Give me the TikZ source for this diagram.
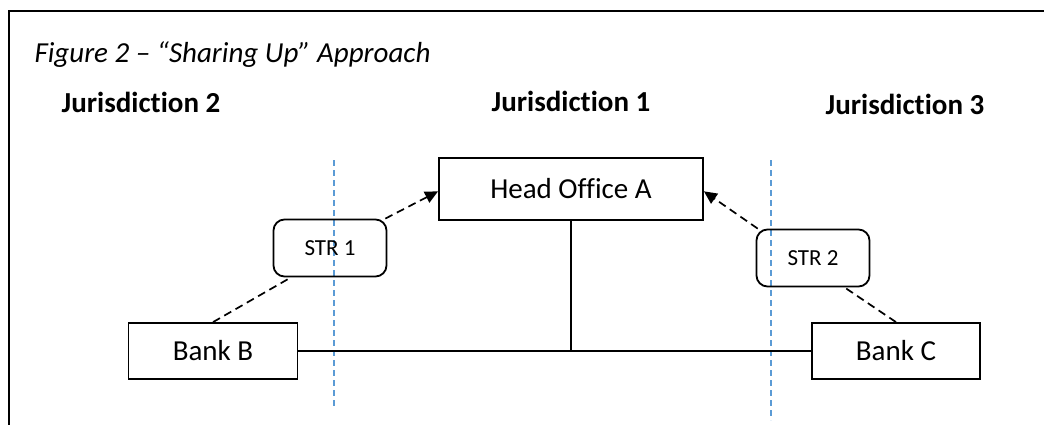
\documentclass[tikz,border=0pt]{standalone}
\usepackage{fontspec}
\setmainfont{Carlito}[Ligatures=NoCommon]
\usetikzlibrary{arrows.meta}
\definecolor{sharingInk}{HTML}{000000}
\definecolor{borderBlue}{HTML}{5B9BD5}

\tikzset{
  entity/.style={draw=sharingInk, line width=1.8pt, minimum width=168pt,
    minimum height=56pt, inner sep=0pt, font=\fontsize{29}{35}\selectfont},
  report/.style={draw=sharingInk, line width=1.8pt, rounded corners=11pt,
    minimum width=113pt, minimum height=57pt, inner sep=0pt,
    font=\fontsize{23}{28}\selectfont},
  juris/.style={anchor=base, font=\bfseries\fontsize{29}{35}\selectfont},
  sharing/.style={sharingInk, line width=1.7pt, dash pattern=on 8pt off 5pt},
  border/.style={borderBlue, line width=1.6pt, dash pattern=on 6pt off 4pt},
}

\begin{document}
\begin{tikzpicture}[x=1pt, y=-1pt]
  \useasboundingbox (0,0) rectangle (1044,425);
  \draw[sharingInk, line width=2pt] (9,425) -- (9,11) -- (1044,11);

  \node[anchor=base west, font=\itshape\fontsize{29}{35}\selectfont] (title) at (31,63)
    {Figure 2 – “Sharing Up” Approach};

  \node[juris] (juris2) at (141,113) {Jurisdiction 2};
  \node[juris] (juris1) at (571,112) {Jurisdiction 1};
  \node[juris] (juris3) at (905,115) {Jurisdiction 3};

  % jurisdiction borders
  \draw[border] (334,160) -- (334,408);
  \draw[border] (771,160) -- (771,420);

  \node[entity, minimum width=264pt, minimum height=62pt] (head) at (571,189) {Head Office A};
  \node[entity, minimum width=169pt] (bankB) at (213,351) {Bank B};
  \node[entity] (bankC) at (896,351) {Bank C};

  \node[report] (str1) at (330,248) {STR 1};
  \node[report] (str2) at (813,258) {STR 2};

  % ownership lines
  \draw[sharingInk, line width=1.7pt] (bankB.east) -- (bankC.west);
  \draw[sharingInk, line width=1.7pt] (head.south) -- (head.south |- bankB.east);

  % reports shared up to head office
  \draw[sharing] (bankB.north) -- (str1.217);
  \draw[sharing, -{Triangle[length=13pt, width=12pt]}] (str1.28) -- (head.181);
  \draw[sharing] (bankC.north) -- (str2.-43);
  \draw[sharing, -{Triangle[length=13pt, width=12pt]}] (str2.152) -- (head.-1);
\end{tikzpicture}
\end{document}
